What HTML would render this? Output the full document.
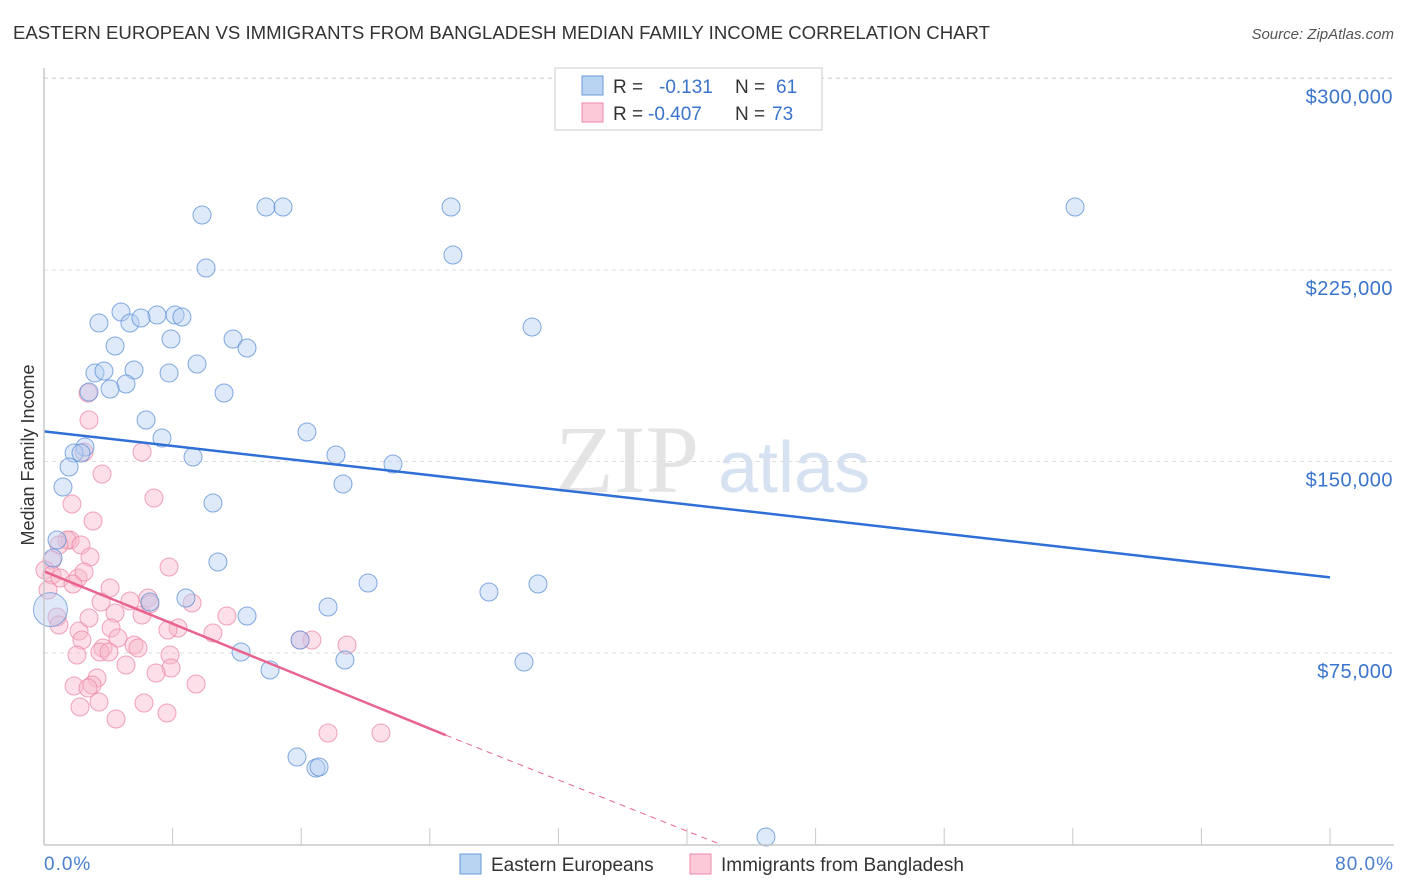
<!DOCTYPE html>
<html><head><meta charset="utf-8"><style>
body{margin:0;background:#fff;font-family:"Liberation Sans",sans-serif;}
#wrap{position:relative;width:1406px;height:892px;overflow:hidden;}
</style></head><body>
<div id="wrap">
<svg id="svg" width="1406" height="892">
<text x="13" y="39" font-size="18.6" fill="#333">EASTERN EUROPEAN VS IMMIGRANTS FROM BANGLADESH MEDIAN FAMILY INCOME CORRELATION CHART</text>
<text x="1394" y="39" font-size="15" fill="#555" font-style="italic" text-anchor="end">Source: ZipAtlas.com</text>
<text x="34" y="455" font-size="18" fill="#333" transform="rotate(-90 34 455)" text-anchor="middle">Median Family Income</text>
<text x="555" y="492" font-size="96" fill="#e4e4e4" font-family="Liberation Serif">ZIP</text>
<text x="718" y="492" font-size="72" fill="#d6e2f2">atlas</text>
<g id="grid"></g><g id="pts"></g><g id="lines"></g>
<line x1="44" y1="845" x2="1394" y2="845" stroke="#c8c8c8" stroke-width="1.5"/>
<line x1="44" y1="68" x2="44" y2="845" stroke="#c8c8c8" stroke-width="1.5"/>
<text x="44" y="870" font-size="19" letter-spacing="1" fill="#4a7fd0">0.0%</text>
<text x="1394" y="870" font-size="19" letter-spacing="1" fill="#4a7fd0" text-anchor="end">80.0%</text>
<g>
<rect x="555" y="68" width="267" height="62" fill="#fff" stroke="#ccc"/>
<rect x="582" y="76" width="21" height="19" fill="#b9d3f3" stroke="#6a9ad8"/>
<rect x="582" y="103" width="21" height="19" fill="#fbc9d7" stroke="#ec8aa8"/>
<text x="613" y="93" font-size="19" fill="#333">R = </text><text x="659" y="93" font-size="19" fill="#3a74cc">-0.131</text>
<text x="735" y="93" font-size="19" fill="#333">N = </text><text x="776" y="93" font-size="19" fill="#3a74cc">61</text>
<text x="613" y="120" font-size="19" fill="#333">R = </text><text x="648" y="120" font-size="19" fill="#3a74cc">-0.407</text>
<text x="735" y="120" font-size="19" fill="#333">N = </text><text x="772" y="120" font-size="19" fill="#3a74cc">73</text>
</g>
<g>
<rect x="460" y="854" width="21" height="20" fill="#b9d3f3" stroke="#6a9ad8"/>
<text x="491" y="871" font-size="19" fill="#333">Eastern Europeans</text>
<rect x="690" y="854" width="21" height="20" fill="#fbc9d7" stroke="#ec8aa8"/>
<text x="721" y="871" font-size="19" fill="#333">Immigrants from Bangladesh</text>
</g>
</svg></div>
<script>
const yTicks=[75000,150000,225000,300000];
const yTickLabels=["$75,000","$150,000","$225,000","$300,000"];
const xTicks=[0,8,16,24,32,40,48,56,64,72,80];
const bluePx=[[202,215],[266,207],[283,207],[451,207],[1075,207],[206,268],[453,255],[121,312],[157,315],[175,315],[182,317],[99,323],[130,323],[141,318],[532,327],[171,339],[233,339],[115,346],[247,348],[95,373],[104,371],[134,370],[169,373],[197,364],[126,384],[110,389],[89,392],[224,393],[146,420],[162,438],[307,432],[85,447],[74,453],[81,453],[336,455],[193,457],[393,464],[69,467],[343,484],[63,487],[213,503],[57,540],[218,562],[368,583],[538,584],[489,592],[150,602],[186,598],[328,607],[247,616],[300,640],[241,652],[345,660],[524,662],[270,670],[297,757],[316,768],[319,767],[766,837],[53,558]];
const pinkPx=[[88,393],[89,420],[84,452],[142,452],[154,498],[102,474],[72,504],[93,521],[70,540],[67,540],[59,545],[81,545],[90,557],[52,560],[45,570],[52,575],[60,578],[78,578],[73,584],[48,590],[169,567],[84,572],[110,588],[57,617],[59,625],[79,631],[89,618],[101,602],[130,601],[148,598],[115,613],[142,615],[192,603],[150,604],[178,628],[111,628],[118,638],[168,630],[82,640],[103,648],[134,645],[138,648],[213,633],[227,616],[300,640],[312,640],[347,645],[100,652],[109,652],[77,655],[170,655],[126,665],[97,678],[92,685],[171,668],[156,673],[74,686],[88,688],[196,684],[144,703],[99,702],[80,707],[167,713],[116,719],[328,733],[381,733]];
const blueX=bluePx.map(p=>+((p[0]-44)/16.075).toFixed(2));
const blueY=bluePx.map(p=>Math.round((844.5-p[1])/0.0025533));
const pinkX=pinkPx.map(p=>+((p[0]-44)/16.075).toFixed(2));
const pinkY=pinkPx.map(p=>Math.round((844.5-p[1])/0.0025533));
const blueTrend=[[0,161800],[80,104600]];
const pinkTrend=[[0,107000],[25,42800],[42.1,0]];
const sx=v=>44+v*16.075, sy=v=>844.5-v*0.0025533;
const NS="http://www.w3.org/2000/svg";
function mk(t,a,p){const e=document.createElementNS(NS,t);for(const k in a)e.setAttribute(k,a[k]);p.appendChild(e);return e;}
const grid=document.getElementById('grid');
yTicks.forEach((v,i)=>{
 const l=mk('line',{x1:44,x2:1394,y1:sy(v),y2:sy(v),stroke:'#ddd','stroke-dasharray':'4,4'},grid);
 
 
 const t=mk('text',{x:1393,y:sy(v)+25,'font-size':20,'letter-spacing':0.5,fill:'#3a74cc','text-anchor':'end'},grid);
 t.textContent=yTickLabels[i];
 
 
});
mk('line',{x1:44,x2:1394,y1:78,y2:78,stroke:'#ddd','stroke-dasharray':'4,4'},grid);
xTicks.forEach(v=>{
 const l=mk('line',{x1:sx(v),x2:sx(v),y1:828,y2:845,stroke:'#c8c8c8'},grid);
 
 
});
const pts=document.getElementById('pts');
function dots(xs,ys,fill,stroke,name){xs.forEach((x,i)=>{
 const c=mk('circle',{cx:sx(x),cy:sy(ys[i]),r:9,fill:fill,'fill-opacity':0.45,stroke:stroke,'stroke-opacity':0.75,'stroke-width':1},pts);
 
 
});}
dots(pinkX,pinkY,'#f9b8cb','#ec86a6','point-bangladesh');
dots(blueX,blueY,'#b5cff1','#5b8fd6','point-eastern');
const big=mk('circle',{cx:sx(0.4),cy:sy(92000),r:17,fill:'#b5cff1','fill-opacity':0.45,stroke:'#5b8fd6','stroke-opacity':0.7},pts);


const lines=document.getElementById('lines');
const bl=mk('line',{x1:sx(blueTrend[0][0]),y1:sy(blueTrend[0][1]),x2:sx(blueTrend[1][0]),y2:sy(blueTrend[1][1]),stroke:'#2f6fd6','stroke-width':2.5},lines);


const pl=mk('line',{x1:sx(pinkTrend[0][0]),y1:sy(pinkTrend[0][1]),x2:sx(pinkTrend[1][0]),y2:sy(pinkTrend[1][1]),stroke:'#e8648e','stroke-width':2.5},lines);


const pd=mk('line',{x1:sx(pinkTrend[1][0]),y1:sy(pinkTrend[1][1]),x2:sx(pinkTrend[2][0]),y2:sy(pinkTrend[2][1]),stroke:'#e8648e','stroke-width':1,'stroke-dasharray':'6,5'},lines);


</script>
</body></html>
